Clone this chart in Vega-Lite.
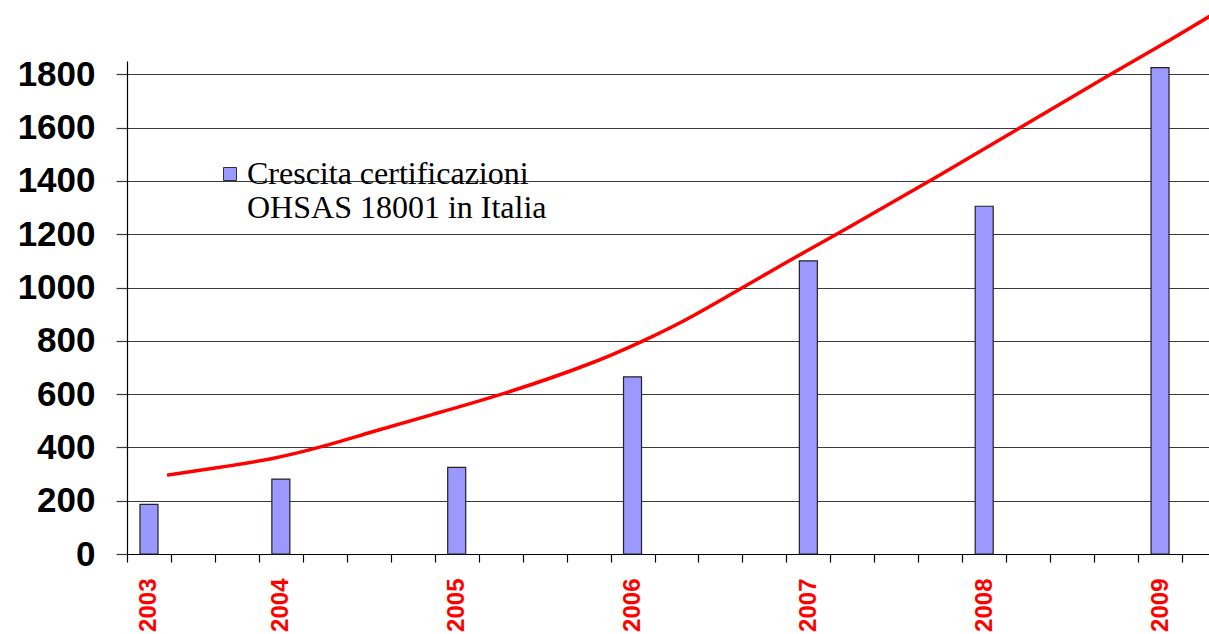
{
  "$schema": "https://vega.github.io/schema/vega-lite/v6.json",
  "autosize": {"type": "none"},
  "padding": {"left": 127, "top": 61, "right": 0, "bottom": 80},
  "width": 1082,
  "height": 493,
  "background": "white",
  "config": {"view": {"stroke": null}},
  "datasets": {
    "bars": [
      {"slot": 0.5, "anno": "2003", "certificazioni": 186, "serie": "Crescita certificazioni OHSAS 18001 in Italia"},
      {"slot": 3.5, "anno": "2004", "certificazioni": 281, "serie": "Crescita certificazioni OHSAS 18001 in Italia"},
      {"slot": 7.5, "anno": "2005", "certificazioni": 325, "serie": "Crescita certificazioni OHSAS 18001 in Italia"},
      {"slot": 11.5, "anno": "2006", "certificazioni": 665, "serie": "Crescita certificazioni OHSAS 18001 in Italia"},
      {"slot": 15.5, "anno": "2007", "certificazioni": 1100, "serie": "Crescita certificazioni OHSAS 18001 in Italia"},
      {"slot": 19.5, "anno": "2008", "certificazioni": 1305, "serie": "Crescita certificazioni OHSAS 18001 in Italia"},
      {"slot": 23.5, "anno": "2009", "certificazioni": 1825, "serie": "Crescita certificazioni OHSAS 18001 in Italia"}
    ],
    "trend": [
      {"pos": 0.91, "valore": 296},
      {"pos": 2.0, "valore": 322},
      {"pos": 3.32, "valore": 356},
      {"pos": 4.4, "valore": 400},
      {"pos": 5.5, "valore": 455},
      {"pos": 6.89, "valore": 521},
      {"pos": 8.71, "valore": 606},
      {"pos": 10.76, "valore": 725},
      {"pos": 11.74, "valore": 800},
      {"pos": 12.69, "valore": 872},
      {"pos": 14.85, "valore": 1082},
      {"pos": 16.22, "valore": 1206},
      {"pos": 18.27, "valore": 1400},
      {"pos": 20.3, "valore": 1598},
      {"pos": 22.36, "valore": 1800},
      {"pos": 23.77, "valore": 1932},
      {"pos": 24.8, "valore": 2035}
    ]
  },
  "layer": [
    {
      "data": {"name": "bars"},
      "mark": {"type": "bar", "size": 18, "stroke": "#222222", "strokeWidth": 1.2, "clip": false},
      "encoding": {
        "x": {
          "field": "slot",
          "type": "quantitative",
          "scale": {"domain": [0, 24.614], "nice": false, "zero": false, "padding": 0},
          "axis": {
            "title": null,
            "values": [0, 0.5, 1, 2, 3, 3.5, 4, 5, 6, 7, 7.5, 8, 9, 10, 11, 11.5, 12, 13, 14, 15, 15.5, 16, 17, 18, 19, 19.5, 20, 21, 22, 23, 23.5, 24],
            "tickCount": 200,
            "grid": false,
            "domainColor": "#000000",
            "domainWidth": 1.2,
            "tickColor": "#000000",
            "tickWidth": 1.2,
            "tickSize": 8,
            "tickOpacity": {"condition": {"test": "datum.value % 1 != 0", "value": 0}, "value": 1},
            "labelExpr": "datum.value == 0.5 ? '2003' : datum.value == 3.5 ? '2004' : datum.value == 7.5 ? '2005' : datum.value == 11.5 ? '2006' : datum.value == 15.5 ? '2007' : datum.value == 19.5 ? '2008' : datum.value == 23.5 ? '2009' : ''",
            "labelAngle": 270,
            "labelFont": "Liberation Sans",
            "labelFontWeight": "bold",
            "labelFontSize": 24,
            "labelColor": "#FF0000",
            "labelPadding": 16,
            "labelOverlap": false,
            "labelFlush": false
          }
        },
        "y": {
          "field": "certificazioni",
          "type": "quantitative",
          "scale": {"domain": [0, 1850], "nice": false},
          "axis": {
            "title": null,
            "values": [0, 200, 400, 600, 800, 1000, 1200, 1400, 1600, 1800],
            "format": "d",
            "grid": true,
            "gridColor": "#3a3a3a",
            "gridWidth": 1.2,
            "domainColor": "#000000",
            "domainWidth": 1.2,
            "tickColor": "#3a3a3a",
            "tickWidth": 1.2,
            "tickSize": 11,
            "labelFont": "Liberation Sans",
            "labelFontWeight": "bold",
            "labelFontSize": 35,
            "labelColor": "#000000",
            "labelPadding": 21,
            "labelOverlap": false,
            "labelFlush": false
          }
        },
        "color": {
          "field": "serie",
          "type": "nominal",
          "scale": {"range": ["#9999FF"]},
          "legend": {
            "title": null,
            "orient": "none",
            "legendX": 87,
            "legendY": 97,
            "padding": 0,
            "symbolType": "square",
            "symbolSize": 169,
            "symbolStrokeColor": "#333333",
            "symbolStrokeWidth": 1,
            "labelFont": "Liberation Serif",
            "labelFontSize": 32,
            "labelColor": "#000000",
            "labelOffset": 1,
            "labelLimit": 0,
            "labelExpr": "['Crescita certificazioni', 'OHSAS 18001 in Italia']",
            "encode": {"labels": {"update": {"lineHeight": {"value": 34}}}}
          }
        }
      }
    },
    {
      "data": {"name": "trend"},
      "mark": {"type": "line", "color": "#FF0000", "strokeWidth": 3.5, "interpolate": "basis", "clip": false},
      "encoding": {
        "x": {"field": "pos", "type": "quantitative"},
        "y": {"field": "valore", "type": "quantitative"}
      }
    }
  ]
}
